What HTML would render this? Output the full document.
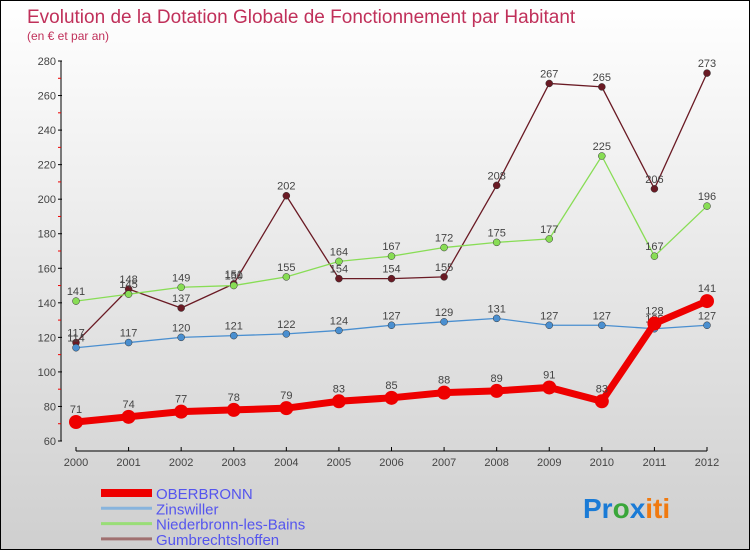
<!DOCTYPE html>
<html><head><meta charset="utf-8"><style>
body{margin:0;}
#c{width:748px;height:548px;border:1px solid #000;background:linear-gradient(#ffffff,#cfcfcf);position:relative;font-family:"Liberation Sans",sans-serif;overflow:hidden}
svg text{font-family:"Liberation Sans",sans-serif}
</style></head><body>
<div id="c">
<svg id="s" width="748" height="548">
<text x="26" y="22" font-size="19" fill="#c0305a">Evolution de la Dotation Globale de Fonctionnement par Habitant</text>
<text x="26" y="39" font-size="12" fill="#c0305a">(en € et par an)</text>
<g id="axes"></g><g id="series"></g><g id="legend"></g>
<text x="582" y="517" font-size="28" font-weight="bold"><tspan fill="#1a7bd6">Pr</tspan><tspan fill="#3aa63a">o</tspan><tspan fill="#1a7bd6">x</tspan><tspan fill="#f07a10">iti</tspan></text>
</svg></div>
<script>
const years=[2000,2001,2002,2003,2004,2005,2006,2007,2008,2009,2010,2011,2012];
const yTicks=[60,80,100,120,140,160,180,200,220,240,260,280];
const oberbronn=[71,74,77,78,79,83,85,88,89,91,83,128,141];
const zinswiller=[114,117,120,121,122,124,127,129,131,127,127,125,127];
const niederbronn=[141,145,149,150,155,164,167,172,175,177,225,167,196];
const gumbrecht=[117,148,137,151,202,154,154,155,208,267,265,206,273];
const NS="http://www.w3.org/2000/svg";
function X(i){return 75+i*(706-75)/(years.length-1);}
function Y(v){return 440-(v-60)*(380/220);}
function mk(t,a,p){const e=document.createElementNS(NS,t);for(const k in a)e.setAttribute(k,a[k]);p.appendChild(e);return e;}
const ax=document.getElementById('axes');
let l=mk('line',{x1:60,y1:Y(280),x2:60,y2:440,stroke:'#000'},ax);


l=mk('line',{x1:75,y1:450,x2:706,y2:450,stroke:'#000'},ax);


yTicks.forEach((v,i)=>{
 mk('line',{x1:57,y1:Y(v),x2:61,y2:Y(v),stroke:'#000'},ax);
 if(i<yTicks.length-1)mk('line',{x1:57,y1:Y(v+10),x2:60,y2:Y(v+10),stroke:'#e00'},ax);
 const t=mk('text',{x:55,y:Y(v)+4,'font-size':11,'text-anchor':'end',fill:'#444'},ax);t.textContent=v;
 
 
});
years.forEach((y,i)=>{
 mk('line',{x1:X(i),y1:446,x2:X(i),y2:450,stroke:'#000'},ax);
 const t=mk('text',{x:X(i),y:465,'font-size':11,'text-anchor':'middle',fill:'#444'},ax);t.textContent=y;
 
 
});
const sg=document.getElementById('series');
const defs=[
 {d:gumbrecht,c:'#6a1a24',lc:'#a07070',w:1.3,r:3.5,n:'Gumbrechtshoffen',k:'gumbrechtshoffen'},
 {d:niederbronn,c:'#88dd55',lc:'#99dd77',w:1.3,r:3.5,n:'Niederbronn-les-Bains',k:'niederbronn'},
 {d:zinswiller,c:'#4a8fd0',lc:'#88b4dd',w:1.3,r:3.5,n:'Zinswiller',k:'zinswiller'},
 {d:oberbronn,c:'#ee0000',lc:'#ee0000',w:7,r:7,n:'OBERBRONN',k:'oberbronn'}];
defs.forEach(s=>{
 const p=mk('polyline',{points:s.d.map((v,i)=>X(i)+','+Y(v)).join(' '),fill:'none',stroke:s.c,'stroke-width':s.w},sg);
 
 
 s.d.forEach((v,i)=>{
  const c=mk('circle',{cx:X(i),cy:Y(v),r:s.r,fill:s.c,stroke:s.w>2?'none':'#333','stroke-width':0.5},sg);
  
  
  const t=mk('text',{x:X(i),y:Y(v)-(s.w>2?9:6),'font-size':11,'text-anchor':'middle',fill:'#444'},sg);t.textContent=v;
  
  
 });
});
const lg=document.getElementById('legend');
[defs[3],defs[2],defs[1],defs[0]].forEach((s,i)=>{
 const y=492+i*15.3;
 const ln=mk('line',{x1:100,y1:y,x2:151,y2:y,stroke:s.lc,'stroke-width':s.w>2?8:3},lg);
 
 
 const t=mk('text',{x:155,y:y+6,'font-size':15,fill:'#5555ee'},lg);t.textContent=s.n;
 
 
});
</script>
</body></html>
